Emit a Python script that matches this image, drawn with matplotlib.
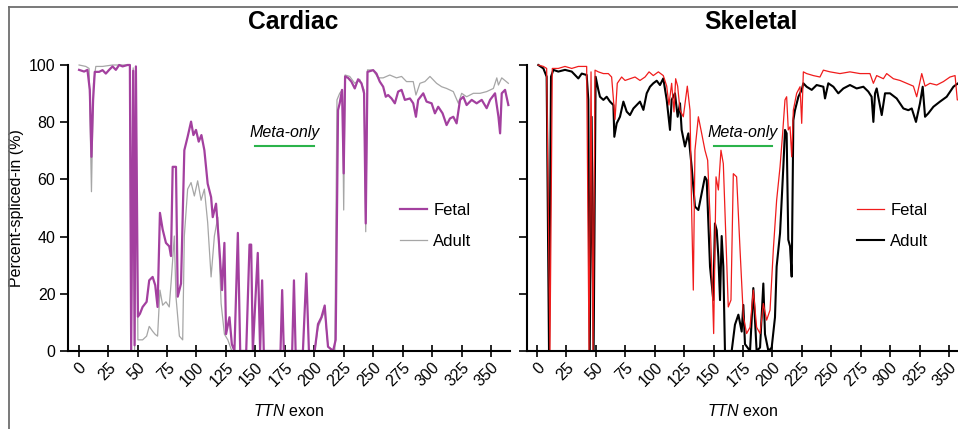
import matplotlib
matplotlib.use("Agg")
import matplotlib.pyplot as plt
from matplotlib.lines import Line2D

plt.rcParams['font.family'] = ['Liberation Sans', 'DejaVu Sans']
plt.rcParams['mathtext.fontset'] = 'custom'
plt.rcParams['mathtext.rm'] = 'Liberation Sans'
plt.rcParams['mathtext.it'] = 'Liberation Sans:italic'

# --- Cardiac, fetal (exon, PSI) ---
card_fetal_x = [0.4, 4.7, 7.5, 9.5, 10.9, 12.3, 13.7, 17.4, 20.3, 23.1, 25.9, 28.8, 31.6, 34.4, 37.3,
                41.5, 43.5, 44.6, 46.3, 47.5, 48.6, 50.3, 52.0, 54.3, 57.7, 59.9, 62.8, 65.0, 67.0,
                69.0, 71.3, 74.1, 76.9, 78.4, 79.8, 82.6, 84.1, 86.9, 89.7, 92.5, 95.4, 97.4, 99.6,
                101.9, 104.2, 106.7, 109.5, 112.4, 113.8, 116.6, 119.5, 121.7, 123.7, 125.1, 128.0,
                130.0, 132.2, 135.1, 137.1, 142.2, 145.0, 146.4, 147.8, 152.0, 154.0, 155.7, 157.1,
                171.3, 172.7, 174.1, 181.2, 182.7, 184.1, 190.3, 193.2, 195.4, 200.3, 203.1, 206.0,
                208.8, 210.2, 211.6, 215.9, 218.1, 220.1, 221.5, 223.5, 224.9, 226.1, 228.6, 231.4,
                234.3, 237.1, 240.0, 242.2, 243.6, 245.1, 249.9, 252.7, 255.5, 258.4, 260.6, 262.6,
                265.5, 268.3, 271.1, 274.0, 276.8, 281.1, 283.9, 286.2, 288.1, 292.4, 295.2, 299.5,
                302.3, 305.1, 308.8, 312.2, 315.1, 317.9, 320.7, 323.6, 326.4, 329.2, 333.5, 337.7,
                342.0, 346.2, 349.1, 353.3, 356.2, 357.6, 359.0, 361.8, 364.6]
card_fetal_y = [98.3, 97.7, 98.3, 91.3, 67.9, 87.8, 97.6, 97.6, 98.2, 97.0, 98.3, 99.5, 98.3, 100, 99.5,
                100, 100, 0.3, 98, 2, 99.5, 12, 13, 15.4, 17.2, 24.7, 25.9, 23, 15.4,
                48.3, 42.5, 37.8, 36.6, 33.2, 64.4, 64.4, 19, 23.6, 70.2, 74.9, 80.2, 75.5, 77.3,
                73.2, 75.5, 70.2, 58.5, 53.8, 46.8, 51.5, 35.5, 21.3, 37.8, 5.9, 11.8,
                2.4, 0, 41.3, 0, 0, 37.2, 37.2, 0, 34.3, 0, 24.7, 0,
                0, 21.3, 0, 0, 24.7, 0, 0, 27.1, 0, 0, 9.4, 11.8,
                15.9, 8.2, 1.5, 0, 3.9, 84.2, 86.6, 91.3, 62.1, 96, 95.5, 94.2,
                91.8, 95, 93.6, 90.1, 44.6, 97.6, 98.2, 97, 94.2, 92.4, 88.9, 89.5,
                88.3, 86.6, 90.7, 91.3, 87.8, 88.3, 86.6, 81.9, 87.8, 90.1, 87.2, 86.6,
                83.1, 85.4, 83.1, 79, 81.3, 81.9, 79.6, 87.8, 88.9, 86, 87.8, 86.6,
                87.8, 84.9, 87.8, 90.1, 81.9, 76.1, 90.1, 91.3, 86]

# --- Cardiac, adult ---
card_adult_x = [0.4, 6.1, 8.9, 10.9, 12.6, 14.6, 20.3, 28.8, 43.5, 44.6, 46.3, 47.5, 48.6, 50.3, 54.3,
                57.7, 59.9, 62.8, 65.0, 67.0, 69.0, 71.3, 74.1, 76.9, 78.4, 81.2, 82.6, 85.5, 88.3,
                89.7, 92.5, 95.4, 98.2, 101.0, 103.9, 106.7, 109.5, 112.4, 115.2, 118.1, 120.9,
                123.7, 126.6, 130.0, 200.3, 203.1, 208.8, 211.6, 217.4, 219.2, 221.5, 223.8, 224.9,
                226.1, 230.0, 234.3, 238.5, 242.2, 243.6, 245.1, 249.9, 254.1, 258.4, 264.0, 269.7,
                274.0, 278.2, 283.9, 286.2, 289.6, 293.8, 298.1, 303.7, 308.0, 312.2, 317.9, 322.2,
                325.0, 329.2, 334.9, 340.6, 346.2, 351.9, 354.8, 356.2, 359.0, 364.6]
card_adult_y = [100, 99.5, 98.8, 55.7, 93.6, 99.5, 99.5, 100, 100, 0, 99, 0, 99.5, 3.9, 3.9,
                5.2, 8.6, 6.9, 5.8, 5.2, 21.3, 16, 17.2, 15.4, 23.6, 40.2, 19, 5.2, 3.9,
                40.2, 56.6, 58.9, 54.2, 59.5, 52.7, 56.6, 44.9, 25.9, 40.2, 46.8, 16.6,
                5.9, 3.9, 0, 0, 8.2, 14.1, 1.5, 0, 87.8, 90.1, 91.3, 49.3,
                96.5, 96, 93.6, 95, 91.3, 41.7, 98.3, 98.2, 95.5, 95.5, 96.5, 95.5,
                96, 94.2, 94.2, 89.5, 93.6, 94.2, 96, 93.6, 92.4, 91.8, 90.7, 86.6,
                90.1, 88.9, 90.1, 90.1, 90.7, 91.8, 95.5, 93, 95.5, 93.6]

# --- Skeletal, fetal ---
skel_fetal_x = [1.1, 5.4, 8.2, 11.0, 13.0, 18.1, 23.8, 29.5, 35.1, 42.2, 44.2, 45.9, 47.6, 49.3, 52.1,
                56.4, 60.6, 63.4, 66.3, 68.2, 71.9, 74.8, 79.0, 83.3, 87.5, 91.8, 95.2, 98.8, 103.1,
                107.3, 110.2, 112.1, 114.4, 116.4, 117.8, 119.5, 121.5, 124.3, 127.7, 130.0, 131.4,
                132.8, 134.2, 137.1, 139.9, 142.7, 145.0, 147.0, 148.4, 150.1, 152.1, 154.1, 156.3,
                158.3, 159.7, 162.5, 164.8, 166.8, 169.6, 172.5, 175.3, 178.1, 181.0, 183.8, 186.6,
                189.5, 192.3, 195.1, 198.0, 200.8, 203.6, 206.5, 208.7, 210.7, 212.1, 213.5, 215.0,
                216.4, 217.8, 220.6, 223.5, 224.9, 226.3, 229.1, 234.8, 240.4, 243.3, 249.0, 257.4,
                265.9, 274.4, 282.9, 285.8, 288.6, 294.3, 297.1, 302.8, 308.4, 314.1, 319.8, 322.6,
                326.9, 329.7, 333.9, 339.6, 345.3, 350.9, 355.2, 357.1, 359.4]
skel_fetal_y = [100, 99.5, 98.8, 0, 98.8, 98.8, 99.5, 98.8, 99.5, 99.5, 0, 97.6, 0, 98.2, 97.6,
                97, 97, 95.8, 81, 93.6, 95.8, 94.6, 95.2, 95.8, 94.6, 95.8, 97.6, 96.3, 97.6,
                96.3, 92.6, 86, 93.6, 83.6, 95.2, 92.6, 84.2, 81.9, 92.6, 84.2, 48.8,
                21.3, 70.2, 81.9, 76.1, 70.2, 66.7, 46.9, 29.5, 6.1, 60.9, 56.3, 70.2,
                65.5, 48.8, 15.4, 17.8, 62, 60.9, 35.5, 12.1, 6.1, 8.3, 21.3, 8.3,
                6.1, 16.6, 10.8, 14.3, 35.5, 52.7, 64.4, 76.1, 87.8, 88.9, 77.3, 78.4,
                67.9, 84.2, 90.1, 92.4, 79.6, 97.6, 97, 96.3, 95.8, 98.2, 97.6, 97,
                97.6, 97, 97, 93.6, 96.3, 95.2, 97, 95.2, 94.6, 93.6, 92.6, 88.9,
                97, 92.6, 93.6, 93, 94.2, 95.8, 96.3, 87.8, 87.8]

# --- Skeletal, adult ---
skel_adult_x = [1.1, 5.4, 8.2, 10.2, 11.9, 13.9, 18.1, 23.8, 29.5, 32.3, 35.1, 38.0, 42.2, 43.6, 44.8,
                46.4, 48.1, 49.8, 52.1, 53.5, 56.4, 59.2, 62.0, 64.9, 65.7, 67.7, 70.5, 73.4, 76.2,
                79.0, 81.9, 84.7, 87.5, 90.4, 93.2, 96.0, 98.8, 101.7, 104.5, 107.3, 110.2, 113.0,
                114.4, 117.2, 119.5, 121.5, 122.9, 125.7, 128.6, 131.4, 134.2, 137.1, 139.9, 142.7,
                144.2, 145.6, 147.0, 148.4, 149.8, 151.2, 152.7, 154.1, 155.5, 156.9, 158.3, 159.7,
                165.4, 168.2, 171.1, 173.9, 175.3, 176.7, 181.0, 183.8, 186.6, 189.5, 192.3, 193.7,
                196.6, 199.4, 202.2, 203.6, 206.5, 209.3, 210.7, 212.1, 213.5, 215.0, 216.4, 217.8,
                219.2, 222.1, 224.9, 226.3, 229.1, 233.4, 237.6, 243.3, 244.7, 247.5, 251.8, 256.0,
                260.3, 265.9, 271.6, 277.3, 281.5, 284.3, 285.8, 287.2, 288.6, 292.9, 295.7, 299.9,
                305.6, 311.3, 315.5, 318.4, 322.0, 325.4, 327.7, 329.7, 332.5, 336.8, 342.4, 348.1,
                353.8, 357.7, 359.5]
skel_adult_y = [100, 98.8, 95.9, 0, 95.9, 98.3, 97.7, 98.3, 97.7, 96.5, 95.3, 97, 96.5, 87.8, 0,
                81.9, 0, 95.9, 91.3, 88.9, 87.8, 88.9, 87.2, 86, 74.9, 79.6, 81.9, 87.2, 83.7,
                82.5, 84.8, 86, 87.2, 84.3, 90.1, 92.4, 93.6, 94.5, 93, 95.3, 87.8, 77.3,
                87.8, 90.1, 81.9, 86.6, 77.3, 71.5, 76.1, 64.4, 50.5, 49.3, 55.1, 60.9,
                59.8, 44.6, 29.5, 23.6, 17.8, 44.6, 42.2, 32.9, 17.8, 40.2, 29.5, 0,
                0, 9.2, 12.7, 6.8, 16.1, 2.4, 0, 22, 0, 1.2, 23.6, 5.9,
                0, 1.2, 11.8, 29.5, 41.2, 64.4, 77.3, 76.1, 38.9, 36.6, 26, 80.7,
                84.2, 88.9, 91.3, 93.6, 92.4, 91.3, 93, 92.4, 88.3, 93.6, 92.4, 90.1,
                91.8, 93, 91.8, 92.4, 90.7, 88.9, 80.1, 90.1, 91.8, 82.5, 90.1, 90.1,
                88.3, 84.8, 84.2, 84.8, 80.1, 86.6, 92.4, 81.9, 83.1, 85.4, 87.2, 88.9,
                92.4, 93.6, 93]

x_ticks = list(range(0, 351, 25))
y_ticks = [0, 20, 40, 60, 80, 100]
meta_span = [150, 200]

fig = plt.figure(figsize=(9.58, 4.29), dpi=100)
W, H = 958, 429
axh = 286 * 102 / 100
ax1 = fig.add_axes([68 / W, 78 / H, 442 / W, axh / H])
ax2 = fig.add_axes([527 / W, 78 / H, 431 / W, axh / H])

ax1.plot(card_adult_x, card_adult_y, color='#a6a6a6', lw=0.9, label='Adult')
ax1.plot(card_fetal_x, card_fetal_y, color='#a3409f', lw=1.6, label='Fetal')
ax2.plot(skel_adult_x, skel_adult_y, color='black', lw=1.5, label='Adult')
ax2.plot(skel_fetal_x, skel_fetal_y, color='#f01c1c', lw=0.9, label='Fetal')

ax1.set_xlim(-9, 366)
ax2.set_xlim(-8.5, 357.7)

for ax, leg_x in [(ax1, 0.751), (ax2, 0.7657)]:
    ax.set_ylim(0, 102)
    ax.spines['top'].set_visible(False)
    ax.spines['right'].set_visible(False)
    ax.spines['left'].set_bounds(0, 100)
    ax.spines['left'].set_linewidth(1.5)
    ax.spines['bottom'].set_linewidth(1.5)
    ax.set_xticks(x_ticks)
    ax.set_yticks(y_ticks)
    ax.tick_params(axis='y', direction='out', length=6, width=1.2, labelsize=11.5, pad=3)
    ax.tick_params(axis='x', direction='inout', length=9, width=1.2, labelsize=11.5, pad=2)
    for lab in ax.get_xticklabels():
        lab.set_rotation(45)
        lab.set_ha('right')
        lab.set_va('top')
        lab.set_rotation_mode('anchor')
    ax.set_xlabel(r'$\it{TTN}$ exon', fontsize=11.5, labelpad=10)
    # meta-only bar
    ax.plot(meta_span, [71.7, 71.7], color='#2bb34b', lw=1.5)
    ax.text(sum(meta_span) / 2, 76.5, 'Meta-only', style='italic', fontsize=11.5,
            ha='center', va='center')
    h, l = ax.get_legend_handles_labels()
    order = [l.index('Fetal'), l.index('Adult')]
    ax.legend([h[i] for i in order], [l[i] for i in order], frameon=False,
              loc='center left', bbox_to_anchor=(leg_x, 0.4285), borderaxespad=0,
              borderpad=0, fontsize=12, handlelength=1.6, handletextpad=0.4,
              labelspacing=1.0)

ax2.set_yticklabels([])
ax1.set_ylabel('Percent-spliced-in (%)', fontsize=11.5)
ax1.yaxis.set_label_coords(-0.0995, 0.49)

fig.text(293 / W, 1 - 22 / H, 'Cardiac', fontsize=17.7, fontweight='bold', ha='center', va='center')
fig.text(751 / W, 1 - 22 / H, 'Skeletal', fontsize=17.7, fontweight='bold', ha='center', va='center')

# thin grey frame at top and left
fig.add_artist(Line2D([9 / W, 9 / W], [0, 1 - 7 / H], color='#6e6e6e', lw=1.3))
fig.add_artist(Line2D([9 / W, 1], [1 - 7 / H, 1 - 7 / H], color='#6e6e6e', lw=1.3))

fig.savefig('out.png', dpi=100)
